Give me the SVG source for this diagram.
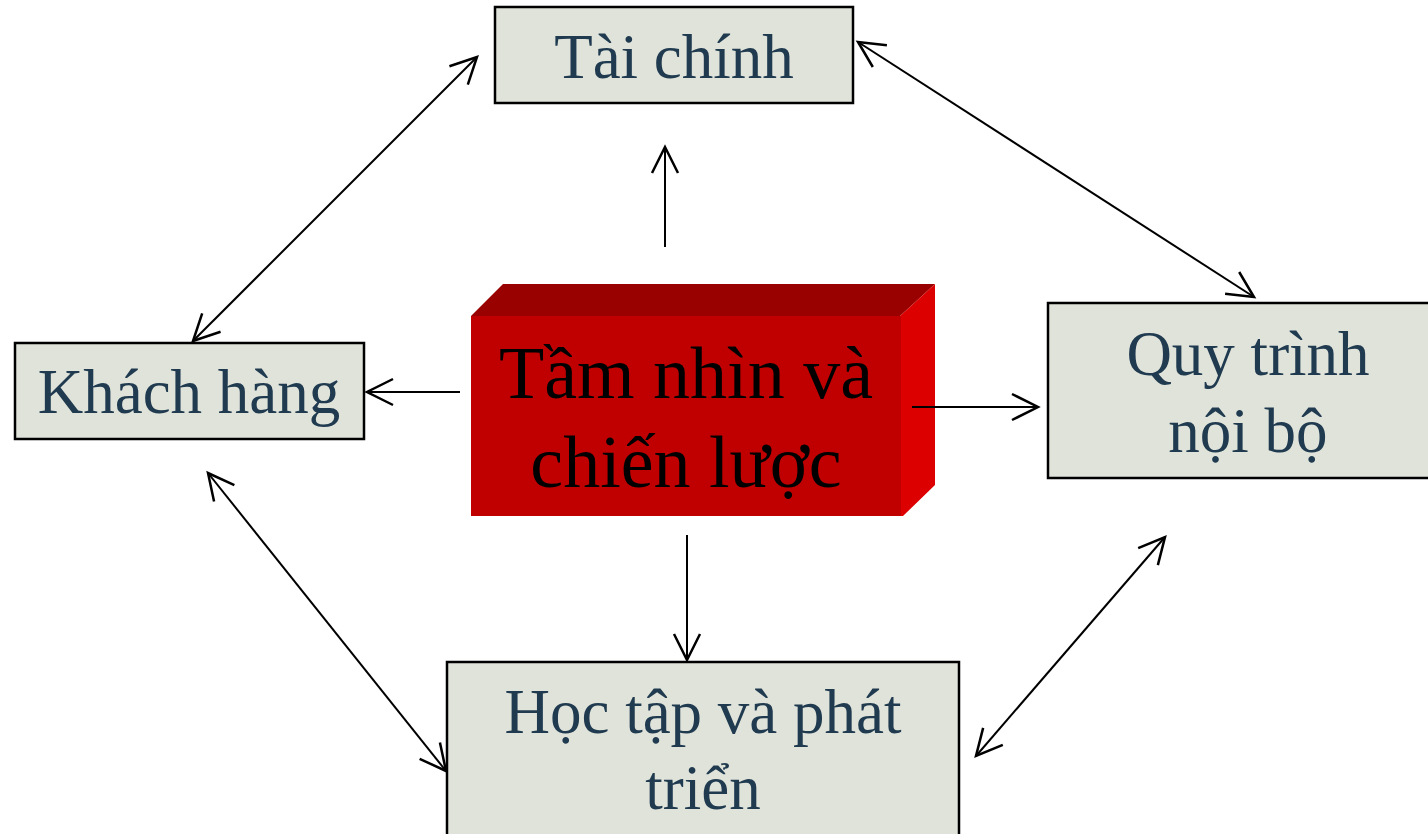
<svg xmlns="http://www.w3.org/2000/svg" width="1428" height="834" viewBox="0 0 1428 834">
<defs>
<style>
.box{fill:#E0E3DA;stroke:#000;stroke-width:2.5}
.lbl{font-family:"Liberation Serif","Times New Roman",serif;font-size:63px;fill:#203B50;text-anchor:middle}
.ctr{font-family:"Liberation Serif","Times New Roman",serif;font-size:74px;fill:#000;text-anchor:middle}
.con{stroke:#000;stroke-width:2;fill:none}
</style>
<marker id="ah" markerUnits="userSpaceOnUse" markerWidth="40" markerHeight="40" viewBox="-30 -20 40 40" refX="0" refY="0" orient="auto-start-reverse">
<path d="M-26,-13 L0,0 L-26,13" fill="none" stroke="#000" stroke-width="2.5"/>
</marker>
</defs>
<rect width="1428" height="834" fill="#fff"/>
<g id="center">
<polygon points="471,316 503,284 935,284 900,316" fill="#990000"/>
<polygon points="900,316 935,284 935,485 903,516 900,516" fill="#DD0000"/>
<rect x="471" y="316" width="430" height="200" fill="#C00000"/>
<text class="ctr" x="686" y="398">Tầm nhìn và</text>
<text class="ctr" x="686" y="487">chiến lược</text>
</g>
<g id="taichinh">
<rect class="box" x="495" y="7" width="358" height="96"/>
<text class="lbl" x="674" y="78">Tài chính</text>
</g>
<g id="khachhang">
<rect class="box" x="15" y="343" width="349" height="96"/>
<text class="lbl" x="189" y="413">Khách hàng</text>
</g>
<g id="quytrinh">
<rect class="box" x="1048" y="303" width="390" height="175"/>
<text class="lbl" x="1248" y="375">Quy trình</text>
<text class="lbl" x="1248" y="452">nội bộ</text>
</g>
<g id="hoctap">
<rect class="box" x="447" y="662" width="512" height="190"/>
<text class="lbl" x="703" y="733">Học tập và phát</text>
<text class="lbl" x="703" y="809">triển</text>
</g>
<g id="connectors">
<line class="con" x1="665" y1="247" x2="665" y2="147" marker-end="url(#ah)"/>
<line class="con" x1="460" y1="392" x2="367" y2="392" marker-end="url(#ah)"/>
<line class="con" x1="912" y1="407" x2="1038" y2="407" marker-end="url(#ah)"/>
<line class="con" x1="687" y1="535" x2="687" y2="660" marker-end="url(#ah)"/>
<line class="con" x1="477" y1="57" x2="193" y2="341" marker-start="url(#ah)" marker-end="url(#ah)"/>
<line class="con" x1="858" y1="42" x2="1254" y2="297" marker-start="url(#ah)" marker-end="url(#ah)"/>
<line class="con" x1="208" y1="473" x2="446" y2="771" marker-start="url(#ah)" marker-end="url(#ah)"/>
<line class="con" x1="1165" y1="537" x2="976" y2="756" marker-start="url(#ah)" marker-end="url(#ah)"/>
</g>
</svg>
